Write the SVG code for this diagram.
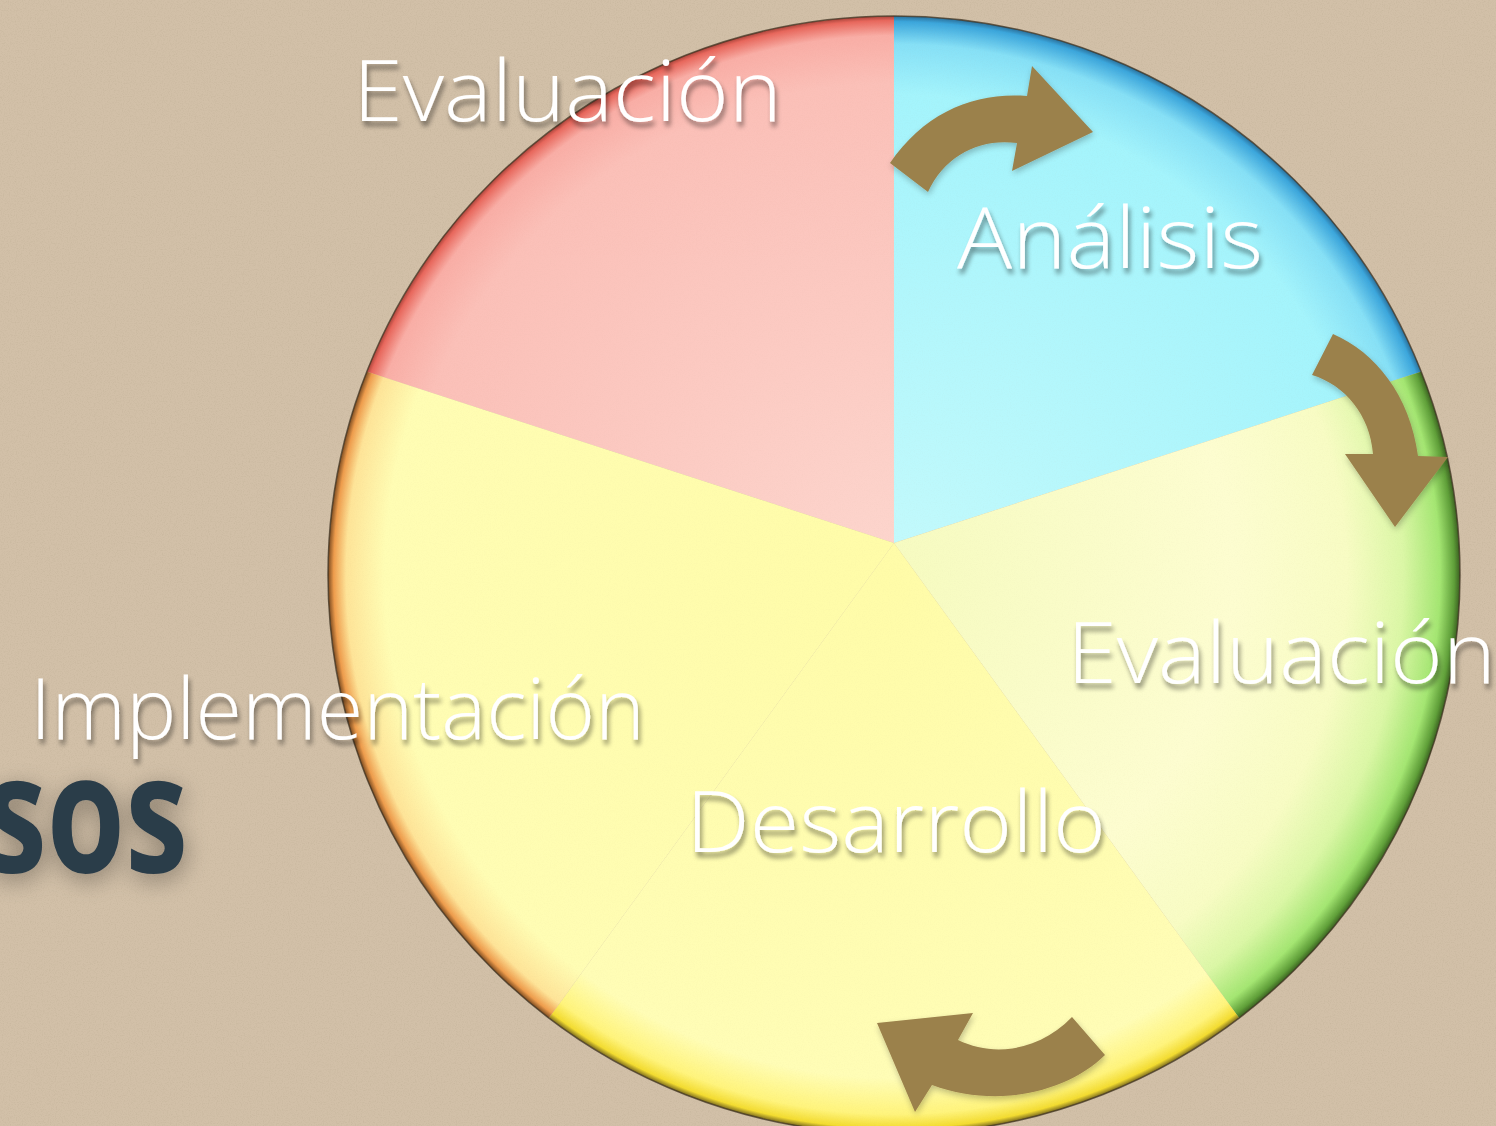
<svg xmlns="http://www.w3.org/2000/svg" width="1496" height="1126" viewBox="0 0 1496 1126">
  <defs>
    <style>
      .lbl { font-family: "Open Sans", "Lato", "Liberation Sans", sans-serif; font-weight: 300; font-size: 84px; fill: #ffffff; filter: url(#tshadow); }
      .title { font-family: "Open Sans", "Liberation Sans", sans-serif; font-weight: 700; font-size: 165px; fill: #2b3c48; filter: url(#glow); }
      .arrow { fill: #9b814b; filter: url(#ashadow); }
    </style>
    <filter id="noise" x="0" y="0" width="100%" height="100%">
      <feTurbulence type="fractalNoise" baseFrequency="0.85" numOctaves="2" seed="4"/>
      <feColorMatrix type="matrix" values="0 0 0 0 0.45  0 0 0 0 0.37  0 0 0 0 0.25  0 0 0 0.6 -0.26"/>
    </filter>
    <filter id="tshadow" x="-10%" y="-20%" width="120%" height="150%">
      <feGaussianBlur in="SourceAlpha" stdDeviation="2.5"/>
      <feOffset dx="2" dy="5" result="b"/>
      <feComponentTransfer><feFuncA type="linear" slope="0.45"/></feComponentTransfer>
      <feMerge><feMergeNode/><feMergeNode in="SourceGraphic"/></feMerge>
    </filter>
    <filter id="glow" x="-30%" y="-30%" width="160%" height="160%">
      <feGaussianBlur in="SourceAlpha" stdDeviation="12"/>
      <feOffset dx="2" dy="6"/>
      <feComponentTransfer><feFuncA type="linear" slope="0.35"/></feComponentTransfer>
      <feMerge><feMergeNode/><feMergeNode in="SourceGraphic"/></feMerge>
    </filter>
    <filter id="ashadow" x="-20%" y="-20%" width="140%" height="140%">
      <feGaussianBlur in="SourceAlpha" stdDeviation="3"/>
      <feOffset dx="1" dy="3"/>
      <feComponentTransfer><feFuncA type="linear" slope="0.25"/></feComponentTransfer>
      <feMerge><feMergeNode/><feMergeNode in="SourceGraphic"/></feMerge>
    </filter>
    <clipPath id="disc">
      <ellipse cx="894" cy="575" rx="566" ry="559"/>
    </clipPath>
    <radialGradient id="gBlue" gradientUnits="userSpaceOnUse" cx="894" cy="575" r="566" gradientTransform="translate(894 575) scale(1 0.9876) translate(-894 -575)">
      <stop offset="0" stop-color="#c4fafc"/>
      <stop offset="0.86" stop-color="#a4f4fc"/>
      <stop offset="0.95" stop-color="#86e0f6"/>
      <stop offset="0.99" stop-color="#3ba6dc"/>
      <stop offset="1" stop-color="#2a6f9a"/>
    </radialGradient>
    <radialGradient id="gPink" gradientUnits="userSpaceOnUse" cx="894" cy="575" r="566" gradientTransform="translate(894 575) scale(1 0.9876) translate(-894 -575)">
      <stop offset="0" stop-color="#fdd6ce"/>
      <stop offset="0.88" stop-color="#fbc0b8"/>
      <stop offset="0.965" stop-color="#f9aea6"/>
      <stop offset="0.992" stop-color="#e8675c"/>
      <stop offset="1" stop-color="#a8443a"/>
    </radialGradient>
    <radialGradient id="gGreen" gradientUnits="userSpaceOnUse" cx="894" cy="575" r="566" gradientTransform="translate(894 575) scale(1 0.9876) translate(-894 -575)">
      <stop offset="0" stop-color="#f6fbc0"/>
      <stop offset="0.6" stop-color="#fdfdd0"/>
      <stop offset="0.8" stop-color="#f8fcc4"/>
      <stop offset="0.9" stop-color="#dbf7a6"/>
      <stop offset="0.965" stop-color="#a4e672"/>
      <stop offset="0.99" stop-color="#5e9e38"/>
      <stop offset="1" stop-color="#3a5f20"/>
    </radialGradient>
    <radialGradient id="gYellow" gradientUnits="userSpaceOnUse" cx="894" cy="575" r="566" gradientTransform="translate(894 575) scale(1 0.9876) translate(-894 -575)">
      <stop offset="0" stop-color="#fffca8"/>
      <stop offset="0.9" stop-color="#fffdb6"/>
      <stop offset="0.965" stop-color="#fff47c"/>
      <stop offset="0.99" stop-color="#f3dc30"/>
      <stop offset="1" stop-color="#7a6a20"/>
    </radialGradient>
    <radialGradient id="gOrange" gradientUnits="userSpaceOnUse" cx="894" cy="575" r="566" gradientTransform="translate(894 575) scale(1 0.9876) translate(-894 -575)">
      <stop offset="0" stop-color="#fffca8"/>
      <stop offset="0.9" stop-color="#fffdb4"/>
      <stop offset="0.968" stop-color="#fee498"/>
      <stop offset="0.99" stop-color="#ee9c4c"/>
      <stop offset="1" stop-color="#7a4a20"/>
    </radialGradient>
  </defs>

  <!-- background -->
  <rect x="0" y="0" width="1496" height="1126" fill="#d2c0a8"/>
  <rect x="0" y="0" width="1496" height="1126" filter="url(#noise)"/>

  <!-- title fragment -->
  <text class="title" x="-16" y="872" textLength="204" lengthAdjust="spacingAndGlyphs">sos</text>

  <!-- pie -->
  <g id="pie" clip-path="url(#disc)">
    <g id="seg-evaluacion-top"><path d="M894,543 L-532.6,79.5 L894,-957 Z" fill="url(#gPink)"/></g>
    <g id="seg-analisis"><path d="M894,543 L894,-957 L2320.6,79.5 Z" fill="url(#gBlue)"/></g>
    <g id="seg-evaluacion-right"><path d="M894,543 L2320.6,79.5 L1775.7,1756.5 Z" fill="url(#gGreen)"/></g>
    <g id="seg-desarrollo"><path d="M894,543 L1775.7,1756.5 L12.3,1756.5 Z" fill="url(#gYellow)"/></g>
    <g id="seg-implementacion"><path d="M894,543 L12.3,1756.5 L-532.6,79.5 Z" fill="url(#gOrange)"/></g>
    <rect x="0" y="0" width="1496" height="1126" filter="url(#noise)" opacity="0.15"/>
  </g>
  <ellipse cx="894" cy="575" rx="566" ry="559" fill="none" stroke="#3e3220" stroke-width="1.5" stroke-opacity="0.75"/>

  <!-- connectors -->
  <g id="connectors">
    <path class="arrow" d="M890,163 C925,112 975,92 1027,96 L1032,66 L1093,132 L1012,171 L1017,143 C980,138 945,155 928,192 Z"/>
    <path class="arrow" d="M1333,334 C1375,352 1410,395 1418,456 L1448,457 L1395,527 L1345,454 L1373,454 C1370,415 1345,385 1312,375 Z"/>
    <path class="arrow" d="M1105,1055 C1070,1090 1000,1110 932,1085 L915,1112 L877,1023 L973,1013 L958,1040 C995,1058 1040,1050 1072,1017 Z"/>
  </g>

  <!-- labels -->
  <g id="labels">
    <text class="lbl" x="353" y="121" textLength="429" lengthAdjust="spacingAndGlyphs">Evaluación</text>
    <text class="lbl" x="957" y="268" textLength="306" lengthAdjust="spacingAndGlyphs">Análisis</text>
    <text class="lbl" x="1067" y="683" textLength="429" lengthAdjust="spacingAndGlyphs">Evaluación</text>
    <text class="lbl" x="686" y="852" textLength="420" lengthAdjust="spacingAndGlyphs">Desarrollo</text>
    <text class="lbl" x="30" y="739" textLength="615" lengthAdjust="spacingAndGlyphs">Implementación</text>
  </g>
</svg>
